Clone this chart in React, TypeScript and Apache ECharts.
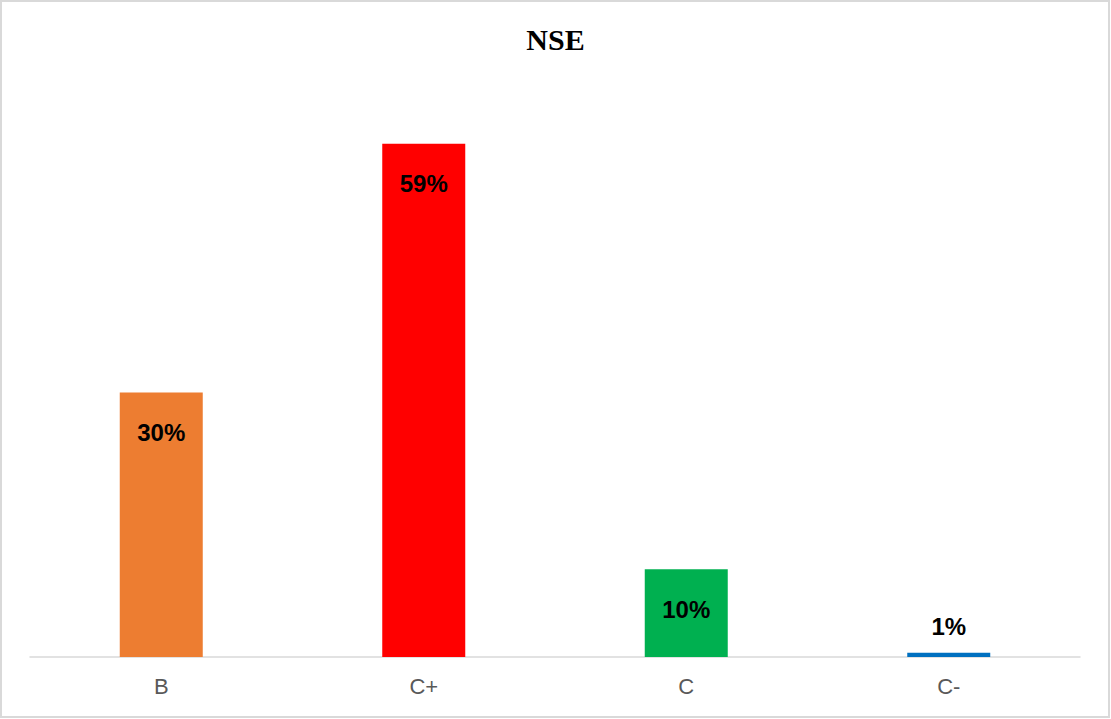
import React, { useEffect, useRef } from "react";
import * as echarts from "echarts";

const categories = ["B", "C+", "C", "C-"];
const values = [30.4, 59.0, 10.1, 0.5];
const colors = ["#ED7D31", "#FF0000", "#00B050", "#0070C0"];
const labelAbove = [false, false, false, true];

export default function App() {
  const ref = useRef<HTMLDivElement>(null);
  useEffect(() => {
    document.body.style.margin = "0";
    const chart = echarts.init(ref.current!, null, { renderer: "svg" });
    chart.setOption({
      animation: false,
      backgroundColor: "#ffffff",
      title: {
        text: "NSE",
        left: "center",
        top: 19,
        textStyle: {
          fontFamily: "Liberation Serif, Times New Roman, serif",
          fontWeight: "bold",
          fontSize: 30,
          color: "#000000",
        },
      },
      graphic: [
        {
          type: "rect",
          shape: { x: 1, y: 1, width: 1108, height: 716 },
          style: { fill: "none", stroke: "#d9d9d9", lineWidth: 2 },
          silent: true,
        },
      ],
      grid: { left: 30, right: 31, top: 48, bottom: 62, containLabel: false },
      xAxis: {
        type: "category",
        data: categories,
        axisLine: { show: true, lineStyle: { color: "#d9d9d9", width: 1.5 } },
        axisTick: { show: false },
        axisLabel: {
          margin: 18,
          fontSize: 22,
          fontFamily: "Liberation Sans, Arial, sans-serif",
          color: "#595959",
        },
      },
      yAxis: {
        type: "value",
        min: 0,
        max: 70,
        show: false,
        splitLine: { show: false },
      },
      series: [
        {
          type: "bar",
          barWidth: 83,
          data: values.map((v, i) => ({
            value: v,
            itemStyle: { color: colors[i] },
            label: labelAbove[i]
              ? { position: "top", distance: 14 }
              : { position: "insideTop", distance: 28 },
          })),
          label: {
            show: true,
            formatter: (p: any) => Math.round(p.value) + "%",
            fontSize: 24,
            fontWeight: "bold",
            fontFamily: "Liberation Sans, Arial, sans-serif",
            color: "#000000",
          },
        },
      ],
    });
    return () => chart.dispose();
  }, []);
  return <div ref={ref} style={{ width: 1111, height: 719 }} />;
}
